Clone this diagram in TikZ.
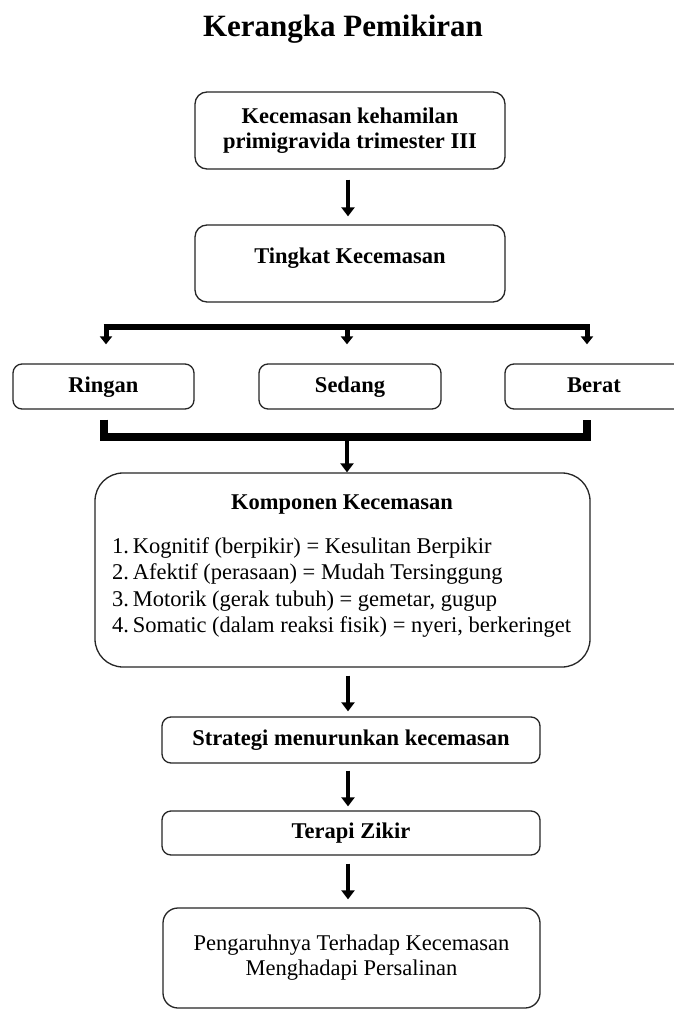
\documentclass[tikz,border=0pt]{standalone}
\usepackage{fontspec}
\setmainfont{Liberation Serif}
\usetikzlibrary{arrows.meta}
\tikzset{
  box/.style={draw=black!85, line width=1.3pt, rounded corners=9pt, inner sep=0pt, align=center,
    font=\fontsize{22.5}{25.5}\selectfont\bfseries},
  one/.style={text height=15.5pt, text depth=4pt},
  plainbox/.style={box, font=\fontsize{22.5}{25.5}\selectfont},
  arr/.style={line width=4.6pt, -{Triangle[width=13pt,length=9pt]}},
  brarr/.style={line width=5pt, -{Triangle[width=12pt,length=8pt]}},
  bar/.style={line width=6pt},
  bracket/.style={line width=8.5pt, line join=miter},
}
\begin{document}
\begin{tikzpicture}[x=1pt,y=-1pt]
\useasboundingbox[fill=white] (0,0) rectangle (674,1011);
% title
\node[font=\fontsize{31}{34}\selectfont\bfseries] (title) at (343,29) {Kerangka Pemikiran};
% top boxes
\node[box, rounded corners=12pt, minimum width=310, minimum height=77] (b1) at (350,130.5)
  {Kecemasan kehamilan\\primigravida trimester III};
\node[box, one, rounded corners=12pt, minimum width=310, minimum height=77] (b2) at (350,263.5)
  {\raisebox{6pt}{Tingkat Kecemasan}};
\draw[arr, shorten <=10pt, shorten >=8pt] (b1.south -| 348,0) -- (b2.north -| 348,0);
% level boxes
\node[box, one, minimum width=181, minimum height=45] (ringan) at (103.5,386.5) {Ringan};
\node[box, one, minimum width=182, minimum height=45] (sedang) at (350,386.5) {Sedang};
\node[box, one, minimum width=178, minimum height=45] (berat) at (594,386.5) {Berat};
% branch
\coordinate (tl) at (106,327);
\coordinate (tm) at (347,327);
\coordinate (tr) at (587,327);
\draw[bar] ([xshift=-2.5pt]tl) -- ([xshift=2.5pt]tr);
\draw[brarr, shorten >=19pt] (tl) -- (tl |- ringan.north);
\draw[brarr, shorten >=19pt] (tm) -- (tm |- sedang.north);
\draw[brarr, shorten >=19pt] (tr) -- (tr |- berat.north);
% bracket
\coordinate (bl) at (104,437);
\coordinate (bm) at (347,437);
\coordinate (br) at (587,437);
\draw[bracket] ([yshift=-10pt]bl |- ringan.south) -- (bl) -- (br) -- ([yshift=-10pt]br |- berat.south);
% komponen
\node[box, rounded corners=28pt, minimum width=495, minimum height=194] (komp) at (342.5,570) {};
\draw[arr] (bm) -- (bm |- komp.north);
\node[font=\fontsize{22.5}{25.5}\selectfont\bfseries] (kompt) at (342,505) {Komponen Kecemasan};
\node[anchor=west, align=left, inner sep=0pt, font=\fontsize{22.5}{26.5}\selectfont] (kompl) at (112,587.5)
  {1.\,Kognitif (berpikir) = Kesulitan Berpikir\\
   2.\,Afektif (perasaan) = Mudah Tersinggung\\
   3.\,Motorik (gerak tubuh) = gemetar, gugup\\
   4.\,Somatic (dalam reaksi fisik) = nyeri, berkeringet};
% lower chain
\node[box, one, minimum width=378, minimum height=46] (strat) at (351,740) {Strategi menurunkan kecemasan};
\node[box, one, minimum width=378, minimum height=44] (zikir) at (351,833) {Terapi Zikir};
\node[plainbox, rounded corners=15pt, minimum width=377, minimum height=100] (peng) at (351.5,958)
  {\raisebox{6pt}{\begin{tabular}{@{}c@{}}Pengaruhnya Terhadap Kecemasan\\Menghadapi Persalinan\end{tabular}}};
\draw[arr, shorten <=8pt, shorten >=5pt] (komp.south -| 348,0) -- (strat.north -| 348,0);
\draw[arr, shorten <=7pt, shorten >=4pt] (strat.south -| 348,0) -- (zikir.north -| 348,0);
\draw[arr, shorten <=8pt, shorten >=8pt] (zikir.south -| 348,0) -- (peng.north -| 348,0);
\end{tikzpicture}
\end{document}
